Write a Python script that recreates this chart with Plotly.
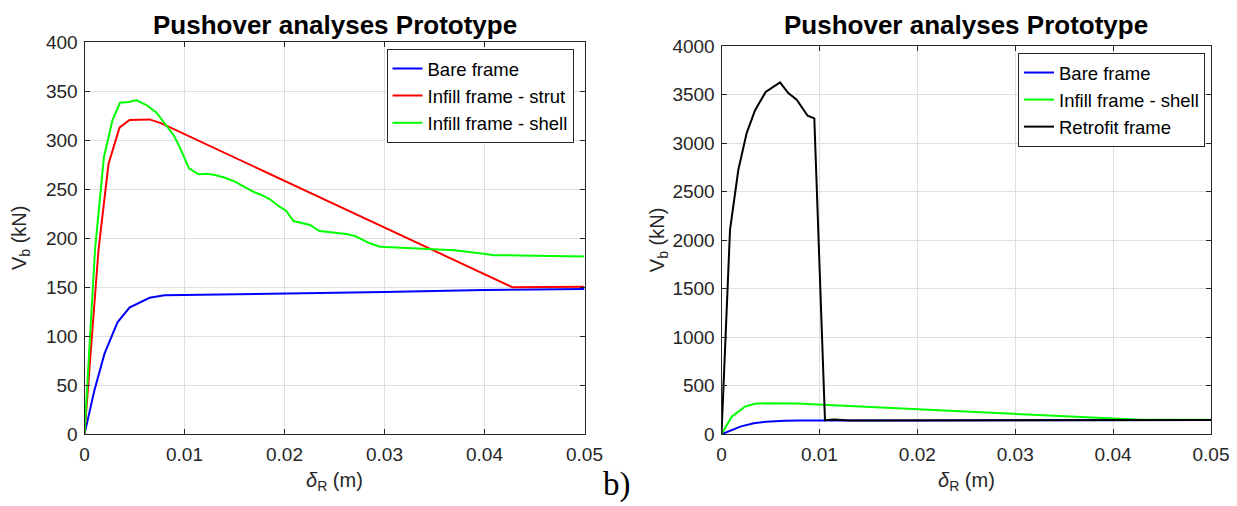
import plotly.graph_objects as go

# ---------------- data ----------------
# Left panel
bare_x = [0, 0.001, 0.002, 0.0033, 0.0045, 0.0065, 0.008, 0.02, 0.03, 0.04, 0.05]
bare_y = [0, 45, 82, 114, 129, 139, 141.5, 143, 145, 147, 148]

strut_x = [0, 0.0014, 0.0024, 0.0035, 0.0045, 0.0065, 0.0077, 0.0428, 0.05]
strut_y = [0, 188, 275.5, 312.6, 320.4, 321, 317, 149.7, 150.3]

shell_x = [0, 0.00105, 0.00195, 0.0028, 0.00355, 0.0044, 0.0052, 0.0062, 0.0072, 0.008,
           0.0089, 0.0095, 0.01045, 0.0114, 0.0122, 0.01305, 0.01405, 0.01505, 0.01605,
           0.0169, 0.0177, 0.01855, 0.0194, 0.02015, 0.0209, 0.0217, 0.02255, 0.0235,
           0.0249, 0.0262, 0.02705, 0.0277, 0.02855, 0.02955, 0.0335, 0.037, 0.0395,
           0.041, 0.045, 0.05]
shell_y = [0, 188, 283, 320.4, 338, 338.8, 340.5, 335.7, 327.9, 317,
           305.1, 293.2, 271, 265, 265.6, 264.3, 261.5, 257.5, 251.7,
           247, 243.9, 239.5, 232.7, 227.9, 217.3, 215.6, 213.3, 207.1,
           205.8, 204, 202, 199, 194.6, 191.1, 189.5, 187.5, 184.5,
           182.5, 182, 181]

# Right panel
r_bare_x = bare_x
r_bare_y = bare_y
r_shell_x = [0, 0.00104, 0.0024, 0.0034, 0.0045, 0.0065, 0.0077, 0.0428, 0.05]
r_shell_y = [0, 181, 285, 315, 320, 321, 317, 149.7, 150.3]
retro_x = [0, 0.00087, 0.00172, 0.00257, 0.00342, 0.00451, 0.00598, 0.00682, 0.00768,
           0.0088, 0.00948, 0.01057, 0.0115, 0.013, 0.05]
retro_y = [0, 2106, 2725, 3103, 3336, 3526, 3625, 3515, 3446,
           3281, 3254, 145, 152, 143, 148]

x_ticks = [0, 0.01, 0.02, 0.03, 0.04, 0.05]
x_ticktext = ["0", "0.01", "0.02", "0.03", "0.04", "0.05"]
left_yticks = [0, 50, 100, 150, 200, 250, 300, 350, 400]
right_yticks = [0, 500, 1000, 1500, 2000, 2500, 3000, 3500, 4000]

title_text = "Pushover analyses Prototype"

# ---------------- figure ----------------
W, H = 1237, 506
FONT = "Liberation Sans, Arial, sans-serif"
AX = "#262626"
GRID = "#dfdfdf"

fig = go.Figure()

def add(x, y, name, color, xa, ya, legend):
    fig.add_trace(go.Scatter(x=x, y=y, mode="lines", name=name,
                             line=dict(color=color, width=2),
                             xaxis=xa, yaxis=ya, legend=legend))

add(bare_x, bare_y, "Bare frame", "#0000ff", "x", "y", "legend")
add(strut_x, strut_y, "Infill frame - strut", "#ff0000", "x", "y", "legend")
add(shell_x, shell_y, "Infill frame - shell", "#00ff00", "x", "y", "legend")

add(r_bare_x, r_bare_y, "Bare frame", "#0000ff", "x2", "y2", "legend2")
add(r_shell_x, r_shell_y, "Infill frame - shell", "#00ff00", "x2", "y2", "legend2")
add(retro_x, retro_y, "Retrofit frame", "#000000", "x2", "y2", "legend2")

# domains in pixels
lx0, lx1, ly0, ly1 = 84.5, 584.5, 42, 434
rx0, rx1, ry0, ry1 = 721.5, 1211, 46, 434.3

def xd(a, b):
    return [a / W, b / W]

def yd(top, bottom):
    return [(H - bottom) / H, (H - top) / H]

axis_common = dict(showline=True, linecolor=AX, linewidth=1, mirror="ticks",
                   ticks="inside", ticklen=5, tickcolor=AX, showgrid=True,
                   gridcolor=GRID, gridwidth=1, zeroline=False, automargin=False,
                   tickfont=dict(family=FONT, size=19, color=AX))

fig.update_layout(
    width=W, height=H,
    margin=dict(l=0, r=0, t=0, b=0, autoexpand=False),
    paper_bgcolor="white", plot_bgcolor="white",
    font=dict(family=FONT, color=AX),
    xaxis=dict(domain=xd(lx0, lx1), range=[0, 0.05], tickvals=x_ticks, ticktext=x_ticktext,
               anchor="y", ticklabelstandoff=3, **axis_common),
    yaxis=dict(domain=yd(ly0, ly1), range=[0, 400], tickvals=left_yticks, anchor="x",
               ticklabelstandoff=2, **axis_common),
    xaxis2=dict(domain=xd(rx0, rx1), range=[0, 0.05], tickvals=x_ticks, ticktext=x_ticktext,
                anchor="y2", ticklabelstandoff=3, **axis_common),
    yaxis2=dict(domain=yd(ry0, ry1), range=[0, 4000], tickvals=right_yticks, anchor="x2",
                ticklabelstandoff=2, **axis_common),
    legend=dict(x=(lx1 - 11) / W, y=(H - 49) / H, xanchor="right", yanchor="top",
                bgcolor="white", bordercolor=AX, borderwidth=1,
                font=dict(family=FONT, size=18.5, color="#000000"), tracegroupgap=0),
    legend2=dict(x=(rx1 - 6) / W, y=(H - 53) / H, xanchor="right", yanchor="top",
                 bgcolor="white", bordercolor=AX, borderwidth=1,
                 font=dict(family=FONT, size=18.5, color="#000000"), tracegroupgap=0),
    showlegend=True,
)

annots = []
# titles
for (a, b) in [(lx0, lx1), (rx0, rx1)]:
    annots.append(dict(text="<b>" + title_text + "</b>", x=(a + b) / 2 / W, y=(H - 25) / H,
                       xref="paper", yref="paper", showarrow=False, xanchor="center",
                       yanchor="middle", font=dict(family=FONT, size=26, color="#000000")))
# axis titles
for (a, b) in [(lx0, lx1), (rx0, rx1)]:
    annots.append(dict(text="<i>δ</i><sub>R</sub> (m)", x=(a + b) / 2 / W, y=(H - 481) / H,
                       xref="paper", yref="paper", showarrow=False, xanchor="center",
                       yanchor="middle", font=dict(family=FONT, size=20, color=AX)))
annots.append(dict(text="V<sub>b</sub> (kN)", x=21 / W, y=(H - (ly0 + ly1) / 2) / H,
                   xref="paper", yref="paper", showarrow=False, textangle=-90,
                   xanchor="center", yanchor="middle", font=dict(family=FONT, size=20, color=AX)))
annots.append(dict(text="V<sub>b</sub> (kN)", x=658 / W, y=(H - (ry0 + ry1) / 2) / H,
                   xref="paper", yref="paper", showarrow=False, textangle=-90,
                   xanchor="center", yanchor="middle", font=dict(family=FONT, size=20, color=AX)))
# panel label
annots.append(dict(text="b)", x=617 / W, y=(H - 484) / H, xref="paper", yref="paper",
                   showarrow=False, xanchor="center", yanchor="middle",
                   font=dict(family="Liberation Serif, Times New Roman, serif", size=33,
                             color="#000000")))
fig.update_layout(annotations=annots)

fig.write_html("out.html")
